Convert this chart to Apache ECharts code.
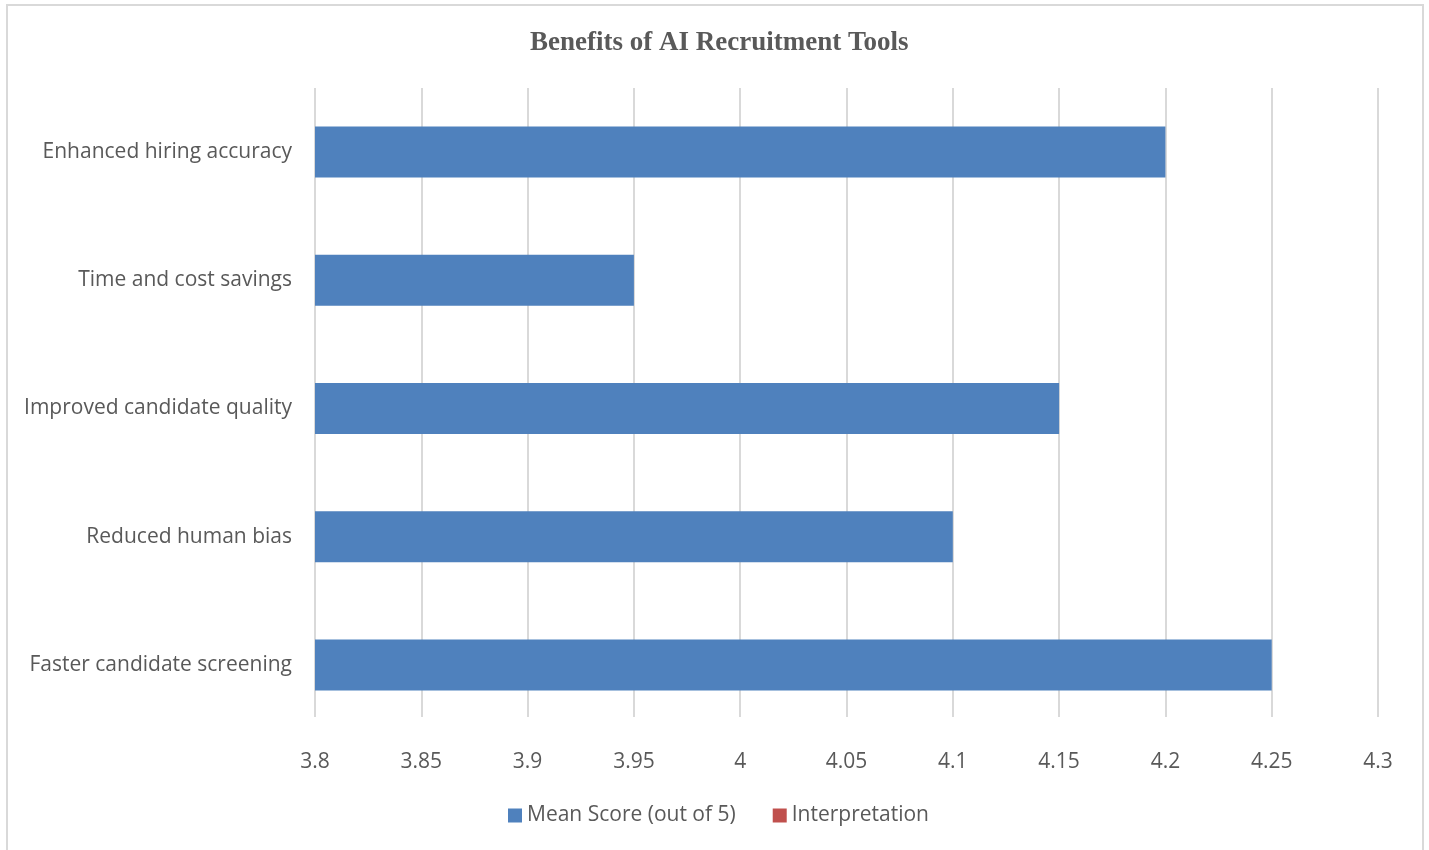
<!DOCTYPE html>
<html>
<head>
<meta charset="utf-8">
<title>Benefits of AI Recruitment Tools</title>
<script src="https://cdn.jsdelivr.net/npm/echarts@6/dist/echarts.min.js"></script>
<style>
    html, body { margin: 0; padding: 0; background: #fff; }
    #main { width: 1429px; height: 850px; }
</style>
</head>
<body>
<div id="main"></div>
<script>
    // categories listed bottom to top, as the category axis draws them
    const categories = [
        'Faster candidate screening',
        'Reduced human bias',
        'Improved candidate quality',
        'Time and cost savings',
        'Enhanced hiring accuracy'
    ];
    const meanScores = [4.25, 4.1, 4.15, 3.95, 4.2];
    const interpretation = [];
    const seriesNames = ['Mean Score (out of 5)', 'Interpretation'];
    const xMin = 3.8, xMax = 4.3, xStep = 0.05;

    const textColor = '#595959';
    const labelFont = '"Open Sans", "Noto Sans", sans-serif';

    const myChart = echarts.init(document.getElementById('main'));
    const option = {
        animation: false,
        backgroundColor: '#fff',
        title: {
            text: 'Benefits of AI Recruitment Tools',
            left: 525,
            top: 25,
            textStyle: {
                fontFamily: '"Liberation Serif", "DejaVu Serif", serif',
                fontWeight: 'bold',
                fontSize: 27,
                color: textColor
            }
        },
        graphic: [{
            type: 'rect',
            shape: { x: 7, y: 5, width: 1416, height: 860 },
            style: { fill: 'none', stroke: '#d9d9d9', lineWidth: 2 },
            silent: true
        }],
        legend: {
            data: seriesNames,
            bottom: 19,
            left: 503,
            itemWidth: 14,
            itemHeight: 14,
            itemGap: 37,
            icon: 'rect',
            textStyle: { fontFamily: labelFont, fontSize: 21, color: textColor }
        },
        // grid 0 carries the gridlines and tick labels, grid 1 the bars
        grid: [
            { left: 315, right: 51, top: 88, bottom: 133 },
            { left: 315, right: 51, top: 88, bottom: 121 }
        ],
        xAxis: [
            {
                gridIndex: 0,
                type: 'value',
                min: xMin,
                max: xMax,
                interval: xStep,
                axisLine: { show: false },
                axisTick: { show: false },
                axisLabel: {
                    margin: 35,
                    fontFamily: labelFont,
                    fontSize: 21,
                    color: textColor,
                    formatter: v => String(+v.toFixed(2))
                },
                splitLine: { show: true, lineStyle: { color: '#d9d9d9', width: 2 } }
            },
            {
                gridIndex: 1,
                type: 'value',
                min: xMin,
                max: xMax,
                show: false
            }
        ],
        yAxis: [
            {
                gridIndex: 0,
                type: 'category',
                data: categories,
                show: false
            },
            {
                gridIndex: 1,
                type: 'category',
                data: categories,
                axisLine: { show: false },
                axisTick: { show: false },
                splitLine: { show: false },
                axisLabel: {
                    margin: 23,
                    padding: [8, 0, 0, 0],
                    fontFamily: labelFont,
                    fontSize: 21,
                    color: textColor
                }
            }
        ],
        series: [
            {
                name: seriesNames[0],
                type: 'bar',
                xAxisIndex: 1,
                yAxisIndex: 1,
                data: meanScores,
                barWidth: 51,
                barGap: '-100%',
                itemStyle: { color: '#4F81BD' }
            },
            {
                name: seriesNames[1],
                type: 'bar',
                xAxisIndex: 1,
                yAxisIndex: 1,
                data: interpretation,
                barWidth: 51,
                itemStyle: { color: '#C0504D' }
            }
        ]
    };
    myChart.setOption(option);
</script>
</body>
</html>
